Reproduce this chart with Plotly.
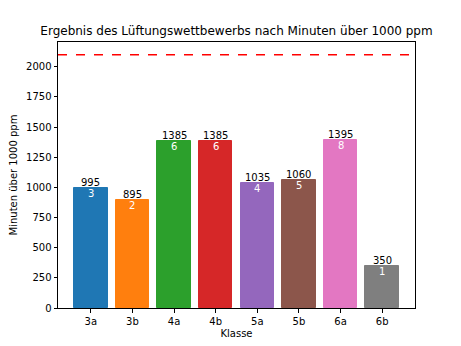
import plotly.graph_objects as go

klassen = ["3a", "3b", "4a", "4b", "5a", "5b", "6a", "6b"]
minuten = [995, 895, 1385, 1385, 1035, 1060, 1395, 350]
platz = [3, 2, 6, 6, 4, 5, 8, 1]
farben = ["#1f77b4", "#ff7f0e", "#2ca02c", "#d62728", "#9467bd", "#8c564b", "#e377c2", "#7f7f7f"]
grenze = 2100
yticks = [0, 250, 500, 750, 1000, 1250, 1500, 1750, 2000]

FONT = "DejaVu Sans"
fig = go.Figure()
fig.add_trace(go.Bar(
    x=list(range(len(klassen))), y=minuten, width=0.8,
    marker=dict(color=farben, line=dict(color=farben, width=1)),
    showlegend=False, hoverinfo="skip",
))
fig.add_shape(type="line", xref="paper", x0=0, x1=1, yref="y", y0=grenze, y1=grenze,
              line=dict(color="red", width=1.5, dash="dash"))

for i, (v, p) in enumerate(zip(minuten, platz)):
    fig.add_annotation(x=i, y=v, text=str(v), showarrow=False, yanchor="bottom",
                       font=dict(family=FONT, size=10, color="black"), yshift=-2)
    fig.add_annotation(x=i, y=v, text=str(p), showarrow=False, yanchor="top",
                       font=dict(family=FONT, size=10, color="white"), yshift=2)

fig.update_layout(
    width=461, height=346,
    margin=dict(l=58, r=46, t=42, b=38, autoexpand=False),
    paper_bgcolor="white", plot_bgcolor="white",
    font=dict(family=FONT, size=10, color="black"),
    title=dict(text="Ergebnis des Lüftungswettbewerbs nach Minuten über 1000 ppm",
               x=(58 + 415) / 2 / 461, xanchor="center", y=1 - 31 / 346, yanchor="middle",
               font=dict(family=FONT, size=12, color="black")),
    bargap=0,
)
fig.update_xaxes(
    range=[-0.79, 7.79], tickmode="array", tickvals=list(range(len(klassen))), ticktext=klassen,
    showline=True, linecolor="black", linewidth=1, mirror=True, automargin=False,
    ticks="outside", ticklen=3.5, tickcolor="black", showgrid=False, zeroline=False,
    title=dict(text="Klasse", font=dict(family=FONT, size=10), standoff=4),
)
fig.update_yaxes(
    range=[0, 2205], tickmode="array", tickvals=yticks, automargin=False,
    showline=True, linecolor="black", linewidth=1, mirror=True,
    ticks="outside", ticklen=3.5, tickcolor="black", showgrid=False, zeroline=False,
    title=dict(text="Minuten über 1000 ppm", font=dict(family=FONT, size=10), standoff=6),
)
fig.write_html("out.html")
